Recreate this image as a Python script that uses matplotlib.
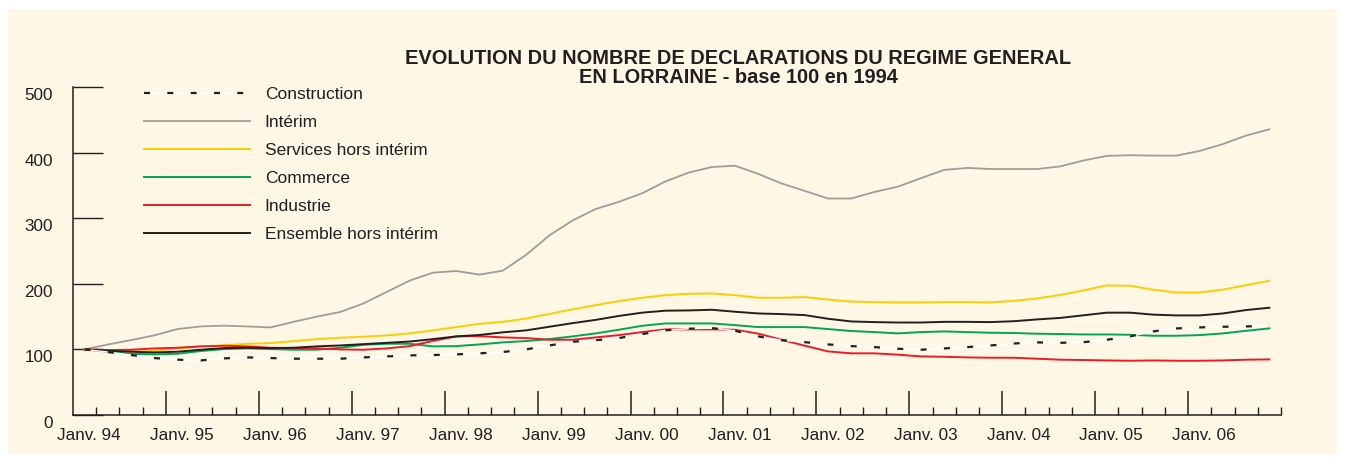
import numpy as np
import matplotlib
matplotlib.use("Agg")
import matplotlib.pyplot as plt
import matplotlib.transforms as mtransforms
from matplotlib.patches import Rectangle

# quarterly index values, 1994 Q1 .. 2006 Q4 (base 100 in 1994)
construction = [100, 96, 91.4, 86.8, 84.3, 83.2, 86.3, 87.8, 86.8, 85.8, 85.8, 85.8, 87.8,
                89.3, 90.9, 91.4, 92.4, 94, 96, 100, 106, 111.7, 114, 117.3, 123.4, 129,
                131.5, 132.5, 128.4, 119.8, 114, 111, 107.6, 105, 103.5, 101, 99.5, 101.5,
                103.5, 106, 109, 110.7, 110, 111, 114.7, 119.8, 127.4, 132, 133.5, 134.5,
                135, 136]
interim = [100, 107.5, 114.2, 121.4, 131, 135, 136.2, 135, 133.5, 142.1, 150, 157, 170,
           187.5, 205, 217, 219.5, 214, 220, 244, 273.6, 296.4, 314, 325, 338, 356, 369.5,
           378, 380, 367.5, 353, 341.6, 330, 330, 340, 348, 361, 373.6, 376.6, 375, 375,
           375, 379, 388, 395, 396, 395.4, 395.4, 402.5, 413, 426, 435.5]
services = [100, 98.5, 96.5, 97.5, 101.5, 104.6, 106, 108.6, 109.6, 112.7, 115.7, 117.8,
            119.3, 121.3, 124.4, 129, 134, 139, 142, 147, 154, 161, 167.5, 173.6, 178.7,
            182.7, 184.8, 185.3, 182.7, 178.7, 178.7, 179.7, 176, 173, 172, 171.6, 171.6,
            172, 172, 171.6, 174, 177.7, 183, 190, 197.5, 197, 191, 186.8, 186.8, 191, 198,
            204.6]
commerce = [100, 96.5, 93.4, 92.4, 93.4, 97.5, 100.5, 101.5, 100.5, 99.5, 99.5, 102.5, 107,
            108.6, 108.6, 104.6, 105, 107.6, 110.7, 112.7, 115.7, 119.8, 124.4, 130, 136,
            139.6, 139.6, 139.6, 137, 134, 134, 134, 131, 128, 126.4, 124.4, 126.4, 127.4,
            126.4, 125.4, 125, 123.9, 123.4, 122.8, 122.8, 122.3, 120.8, 120.8, 121.8, 124.4,
            128.4, 132]
industrie = [100, 99, 99.5, 101.5, 102.5, 104.6, 105.6, 104.6, 102.5, 102, 101.5, 100, 99.5,
             101.5, 105, 113, 119.8, 120.2, 118.3, 117.3, 114.7, 114.7, 118.3, 121.8, 126.4,
             130.5, 130.5, 130.5, 130, 124, 114.7, 105.6, 97, 94, 94, 92, 89.3, 88.8, 87.8,
             87.3, 87.3, 85.8, 84.3, 83.8, 83.2, 82.7, 83.2, 82.7, 82.7, 83.2, 84.3, 84.8]
ensemble = [100, 98, 96.5, 95.4, 96.5, 99.5, 102, 102.5, 102, 102.5, 104.6, 106, 108, 110,
            112, 115.7, 119.8, 122, 126, 129, 134.5, 140, 145, 151, 156, 159, 159.4, 160.4,
            157.4, 154.8, 153.8, 152.3, 146.7, 142.6, 141.6, 141, 141, 142, 142, 141.6, 143,
            145.7, 148, 152, 156, 156, 153, 151.8, 151.8, 154.8, 160, 163.5]

year_labels = ['Janv. 94', 'Janv. 95', 'Janv. 96', 'Janv. 97', 'Janv. 98', 'Janv. 99',
               'Janv. 00', 'Janv. 01', 'Janv. 02', 'Janv. 03', 'Janv. 04', 'Janv. 05',
               'Janv. 06']
y_ticks = [0, 100, 200, 300, 400, 500]

CREAM = '#fef7e6'
INK = '#231f20'

plt.rcParams['font.family'] = ['Liberation Sans', 'DejaVu Sans']
plt.rcParams['lines.scale_dashes'] = False

W, H = 1345, 461
fig = plt.figure(figsize=(W / 100, H / 100), dpi=100)
fig.patch.set_facecolor('white')
fig.patches.append(Rectangle((8 / W, 1 - 454 / H), (1337 - 8) / W, (454 - 9) / H,
                             transform=fig.transFigure, facecolor=CREAM,
                             edgecolor='none', zorder=-5))

ax = fig.add_axes([73 / W, 1 - 415 / H, (1281 - 73) / W, (415 - 87) / H])
ax.set_facecolor('none')

x = np.arange(len(ensemble))
l_int, = ax.plot(x, interim, color='#9d9d9d', lw=1.3, label='Intérim')
l_ser, = ax.plot(x, services, color='#ffcc00', lw=1.4, label='Services hors intérim')
l_com, = ax.plot(x, commerce, color='#00a651', lw=1.4, label='Commerce')
l_ind, = ax.plot(x, industrie, color='#ed1c24', lw=1.4, label='Industrie')
l_ens, = ax.plot(x, ensemble, color=INK, lw=1.4, label='Ensemble hors intérim')
c_bg, = ax.plot(x, construction, color='white', lw=1.0)
c_dash, = ax.plot(x, construction, color=INK, lw=1.6, linestyle=(0, (4.3, 12.5)))

ax.set_xlim(-0.5, len(ensemble) - 0.5)
ax.set_ylim(0, 500)

for s in ['top', 'right']:
    ax.spines[s].set_visible(False)
for s in ['left', 'bottom']:
    ax.spines[s].set_color(INK)
    ax.spines[s].set_linewidth(1.1)

# y axis: ticks drawn inward like short grid stubs
ax.set_yticks(y_ticks, [str(v) for v in y_ticks])
ax.tick_params(axis='y', direction='in', length=21.6, width=1.0, color=INK,
               pad=14.4, labelsize=12.3, labelcolor=INK)
down = mtransforms.ScaledTranslation(0, -7 / 100, fig.dpi_scale_trans)
for lab in ax.get_yticklabels():
    lab.set_transform(lab.get_transform() + down)

# x axis: labels at each January, tick marks at quarter boundaries
ax.set_xticks(np.arange(0, len(ensemble), 4), year_labels)
ax.tick_params(axis='x', length=0, pad=9, labelsize=12.3, labelcolor=INK)
right = mtransforms.ScaledTranslation(4.5 / 100, 0, fig.dpi_scale_trans)
for lab in ax.get_xticklabels():
    lab.set_transform(lab.get_transform() + right)

sec = ax.secondary_xaxis(0)
sec.set_xticks(np.arange(3.5, 48, 4), [])
sec.set_xticks(np.arange(0.5, len(ensemble), 1), minor=True)
sec.tick_params(which='major', direction='in', length=17.3, width=1.1, color=INK)
sec.tick_params(which='minor', direction='in', length=5.8, width=1.0, color=INK)
sec.spines['bottom'].set_visible(False)

fig.text(738 / W, 1 - 58 / H, 'EVOLUTION DU NOMBRE DE DECLARATIONS DU REGIME GENERAL',
         ha='center', va='center', fontsize=14.45, fontweight='bold', color=INK)
fig.text(738 / W, 1 - 77.5 / H, 'EN LORRAINE - base 100 en 1994',
         ha='center', va='center', fontsize=14.45, fontweight='bold', color=INK)

handles = [(c_bg, c_dash), l_int, l_ser, l_com, l_ind, l_ens]
labels = ['Construction', 'Intérim', 'Services hors intérim', 'Commerce', 'Industrie',
          'Ensemble hors intérim']
leg = fig.legend(handles, labels, loc='upper left',
                 bbox_to_anchor=(144 / W, 1 - 87 / H), frameon=False, fontsize=12.5,
                 handlelength=6.1, handletextpad=0.85, labelspacing=0.735,
                 borderpad=0, borderaxespad=0)
for t in leg.get_texts():
    t.set_color(INK)

fig.savefig('out.png', dpi=100, facecolor=fig.get_facecolor())
